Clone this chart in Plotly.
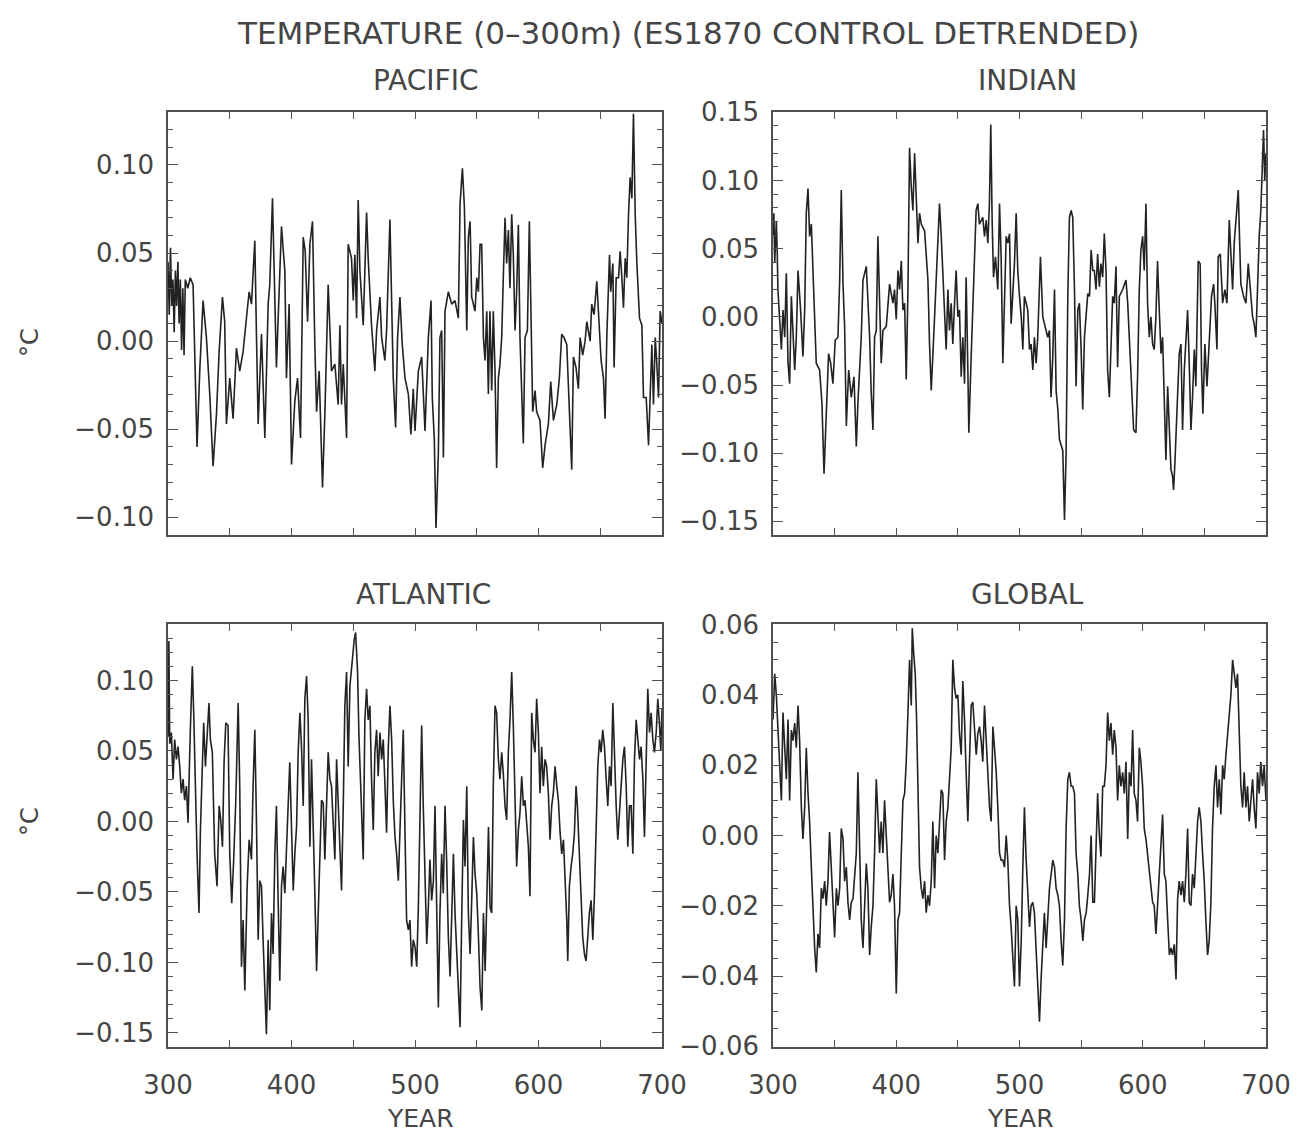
import plotly.graph_objects as go

# ---------------- data ----------------
PACIFIC = [
    (300, 0.045), (301, 0.015), (302, 0.053), (303, 0.020), (304, 0.035), (305, 0.005),
    (306, 0.040), (307, 0.020), (308, 0.045), (309, 0.010), (310, 0.035), (311, -0.005),
    (312, 0.030), (313, -0.008), (314, 0.035), (316, 0.030), (318, 0.036), (320.3, 0.032),
    (323.5, -0.060), (325.7, -0.017), (328.4, 0.023), (331.1, 0.002), (333.8, -0.030),
    (336.5, -0.071), (339.2, -0.042), (341.4, -0.006), (344.1, 0.025), (345.9, 0.011),
    (347.3, -0.047), (350, -0.021), (352.7, -0.044), (355.4, -0.004), (358.1, -0.017),
    (360.8, -0.006), (363.5, 0.013), (365.7, 0.028), (367.6, 0.021), (370.3, 0.057),
    (371.6, 0.004), (373, -0.047), (375.7, 0.004), (378.4, -0.055), (381.1, 0.021),
    (382.4, 0.032), (384.6, 0.081), (386.5, 0.032), (387.8, -0.015), (389.2, 0.013),
    (391.9, 0.065), (394.6, 0.040), (395.9, -0.021), (398.1, 0.021), (400, -0.070),
    (402.7, -0.034), (404.9, -0.021), (407.3, -0.055), (409.5, 0.059), (411.1, 0.051),
    (413, 0.011), (414.9, 0.055), (417, 0.068), (418.9, -0.002), (420.3, -0.040),
    (422.4, -0.017), (425.1, -0.083), (427, -0.042), (429.7, 0.032), (432.4, -0.017),
    (435.1, -0.013), (437.8, -0.036), (439.2, 0.009), (440.5, -0.036), (441.9, -0.013),
    (444.6, -0.055), (445.9, 0.055), (448.6, 0.047), (450, 0.023), (451.3, 0.049),
    (452.7, 0.013), (454, 0.080), (455.4, 0.040), (456.7, 0.025), (458.1, 0.009),
    (459.4, 0.040), (460.8, 0.073), (462.1, 0.047), (464.8, 0.009), (467.5, -0.017),
    (468.9, 0.006), (471.6, 0.025), (473, 0.002), (475.6, -0.011), (477, 0.006),
    (479.7, 0.069), (481.1, 0.017), (482.4, -0.021), (484.3, -0.049), (485.9, 0.002),
    (487.8, 0.025), (489.7, -0.002), (491.9, -0.021), (494.6, -0.030), (496.7, -0.053),
    (498.6, -0.027), (500, -0.051), (502.7, -0.017), (505.4, -0.009), (508.1, -0.051),
    (510.8, 0.002), (513, 0.023), (514, -0.032), (515.6, -0.055), (517, -0.106),
    (518.9, -0.064), (520.2, 0.002), (521.6, 0.006), (523, -0.066), (524.3, 0.017),
    (527, 0.028), (529.7, 0.021), (532.4, 0.023), (535.1, 0.013), (536.5, 0.078),
    (538.4, 0.098), (540, 0.076), (541.9, 0.006), (543.2, 0.059), (544.6, 0.068),
    (545.9, 0.025), (548.6, 0.017), (550, 0.036), (551.3, 0.028), (552.7, 0.055),
    (554, 0.055), (555.4, 0.002), (556.7, -0.011), (558.1, 0.017), (559.4, -0.030),
    (560.7, 0.017), (562.1, -0.028), (563.4, 0.017), (564.8, -0.017), (566.1, -0.072),
    (567.5, -0.021), (568.8, -0.013), (570.2, 0.002), (571.5, 0.036), (572.9, 0.070),
    (574.2, 0.044), (575.6, 0.063), (576.9, 0.030), (578.3, 0.072), (579.6, 0.049),
    (581, 0.006), (582.3, 0.028), (583.7, 0.066), (585, 0.002), (586.4, -0.032),
    (587.7, -0.058), (589.1, 0.002), (591, 0.006), (592.6, 0.068), (593.7, 0.013),
    (595.3, -0.040), (597.2, -0.028), (598.5, -0.040), (601.2, -0.045), (603.4, -0.072),
    (605.3, -0.059), (608, -0.047), (609.9, -0.023), (612.1, -0.045), (614.8, -0.036),
    (616.9, -0.021), (618.8, 0.004), (620.7, 0.002), (622.9, -0.002), (625, -0.036),
    (626.9, -0.073), (628.3, -0.009), (630.4, -0.015), (632.3, -0.027), (633.7, 0.002),
    (635.8, -0.008), (637.7, 0.000), (639.1, 0.011), (641.8, 0.000), (643.1, 0.021),
    (645, 0.015), (647.2, 0.034), (648.5, 0.017), (650.7, -0.011), (652.6, -0.021),
    (653.9, -0.044), (655.3, 0.002), (657.5, 0.049), (658.5, 0.028), (660.2, 0.044),
    (661.2, -0.015), (662.9, 0.036), (664.8, 0.036), (666.1, 0.051), (667.5, 0.036),
    (668.8, 0.019), (670.2, 0.047), (671.5, 0.036), (672.9, 0.072), (674.2, 0.093),
    (675.6, 0.081), (676.9, 0.129), (678.3, 0.072), (679.6, 0.045), (681.8, 0.013),
    (683.7, 0.009), (685, -0.032), (687.2, -0.032), (689.1, -0.059), (690.4, -0.028),
    (691.8, -0.002), (693.1, -0.036), (694.5, 0.002), (695.8, -0.013), (697.2, -0.032),
    (698.5, 0.017), (700, 0.010),
]

INDIAN = [
    (300, 0.060), (300.7, 0.076), (301.4, 0.040), (302.7, 0.070), (303.5, 0.045),
    (304, 0.020), (306.8, -0.024), (308.1, 0.005), (309.5, -0.015), (310.8, 0.032),
    (312.2, -0.034), (313.5, -0.049), (314.9, 0.015), (316.2, -0.015), (317.6, -0.039),
    (318.9, -0.015), (320.3, 0.034), (322.4, 0.005), (324.3, -0.029), (325.7, 0.005),
    (327, 0.076), (328.4, 0.094), (329.7, 0.059), (331.1, 0.068), (332.4, 0.032),
    (333.8, 0.000), (335.1, -0.034), (337.8, -0.039), (339.7, -0.063), (341.4, -0.115),
    (343.2, -0.076), (345.1, -0.027), (346.8, -0.034), (348.6, -0.049), (350.5, -0.017),
    (352.7, -0.015), (354.1, 0.027), (355.4, 0.093), (356.8, 0.024), (358.1, -0.007),
    (359.5, -0.080), (361.4, -0.039), (363.5, -0.059), (365.7, -0.044), (367.6, -0.095),
    (368.9, -0.063), (371.6, -0.015), (373, 0.027), (375.7, 0.037), (377, 0.010),
    (378.4, -0.015), (379.7, -0.056), (381.1, -0.083), (382.4, -0.015), (383.8, -0.010),
    (385.1, 0.059), (386.5, 0.010), (387.8, -0.034), (389.2, -0.010), (391.9, -0.007),
    (394.6, 0.024), (397.3, 0.010), (398.6, 0.020), (400, -0.002), (401.4, 0.034),
    (402.7, 0.020), (404.1, 0.041), (405.4, 0.005), (406.8, 0.010), (408.1, -0.046),
    (409.5, 0.020), (410.8, 0.124), (412.2, 0.095), (413.5, 0.078), (414.9, 0.120),
    (416.2, 0.083), (417.6, 0.054), (418.9, 0.076), (420.3, 0.068), (423, 0.063),
    (425.7, 0.027), (427, -0.020), (428.4, -0.054), (431.1, 0.000), (432.4, 0.024),
    (433.8, 0.059), (435.1, 0.083), (436.5, 0.059), (437.8, 0.029), (439.2, -0.002),
    (440.5, -0.024), (441.9, 0.020), (443.2, -0.010), (444.6, 0.010), (445.9, -0.020),
    (447.3, 0.010), (448.6, 0.034), (450, 0.000), (451.3, 0.005), (452.7, -0.044),
    (454, -0.015), (455.4, -0.049), (456.7, 0.029), (458.1, -0.039), (458.9, -0.085),
    (460.8, -0.029), (462.1, 0.005), (463.5, 0.044), (464.8, 0.078), (466.2, 0.083),
    (467.5, 0.068), (470.2, 0.073), (471.6, 0.059), (473, 0.071), (474.3, 0.054),
    (475.6, 0.083), (476.7, 0.141), (477.8, 0.071), (478.9, 0.029), (480.5, 0.044),
    (482.4, 0.020), (483.8, 0.083), (485.1, 0.044), (486.5, -0.034), (487.8, 0.015),
    (489.2, 0.059), (490.5, 0.054), (491.9, 0.061), (493.2, -0.005), (494.6, 0.020),
    (495.9, 0.039), (497.3, 0.076), (498.6, 0.034), (500, 0.015), (501.4, 0.000),
    (502.7, -0.024), (504, 0.015), (505.4, 0.010), (506.7, 0.005), (508.1, -0.024),
    (509.4, -0.020), (510.8, -0.039), (512.1, -0.015), (513.5, -0.034), (514.8, -0.015),
    (517, 0.044), (518.9, 0.000), (520.2, -0.005), (522.9, -0.015), (524.3, -0.010),
    (525.6, -0.059), (527, -0.029), (528.4, 0.020), (529.7, -0.054), (531.1, -0.068),
    (532.4, -0.090), (533.8, -0.095), (535.1, -0.098), (536.5, -0.149), (537.8, -0.100),
    (539.2, 0.015), (540.5, 0.073), (541.9, 0.078), (543.2, 0.073), (544.6, 0.020),
    (545.9, -0.051), (547.3, 0.005), (548.6, 0.010), (550, -0.024), (551.3, -0.068),
    (552.7, -0.015), (554.1, 0.000), (555.4, 0.017), (556.8, 0.015), (558.1, 0.049),
    (559.5, 0.034), (560.7, 0.034), (562.1, 0.020), (563.4, 0.046), (564.8, 0.022),
    (566.1, 0.039), (567.5, 0.029), (568.8, 0.061), (570.2, 0.034), (571.5, -0.039),
    (572.9, -0.059), (574.2, -0.020), (575.6, 0.015), (576.9, 0.010), (578.3, 0.037),
    (579.6, -0.037), (581, 0.015), (583.7, 0.020), (585, 0.024), (586.4, 0.027),
    (587.8, 0.010), (589.1, -0.015), (590.4, -0.051), (592.6, -0.083), (594.5, -0.085),
    (595.8, -0.044), (597.2, 0.020), (598.5, 0.049), (599.9, 0.059), (601.2, 0.034),
    (602.6, 0.083), (603.9, 0.010), (605.3, -0.015), (606.6, 0.000), (608, -0.020),
    (609.3, -0.024), (610.7, 0.000), (612, 0.041), (613.4, 0.005), (614.8, -0.027),
    (616.1, -0.015), (617.5, -0.068), (618.8, -0.105), (620.2, -0.051), (621.5, -0.088),
    (622.9, -0.112), (624.2, -0.117), (625, -0.127), (626.1, -0.107), (627.7, -0.063),
    (629.6, -0.027), (631, -0.020), (632.3, -0.083), (633.7, -0.039), (635, -0.015),
    (636.4, 0.005), (637.7, -0.034), (639.1, -0.083), (640.4, -0.059), (641.8, -0.024),
    (643.1, -0.051), (645, 0.041), (646.6, 0.039), (647.7, -0.039), (648.8, -0.071),
    (650.4, -0.020), (652.1, -0.051), (654, -0.020), (655.8, 0.015), (657.5, 0.024),
    (658.5, 0.010), (660.2, -0.024), (661.2, 0.044), (662.9, 0.046), (664.8, 0.010),
    (666.6, 0.020), (668.3, 0.010), (670.2, 0.071), (671.5, 0.049), (672.9, 0.020),
    (674.2, 0.054), (675.6, 0.068), (677.5, 0.093), (678.5, 0.059), (679.6, 0.024),
    (681.8, 0.015), (683.7, 0.010), (685.6, 0.039), (687.2, 0.020), (689.1, 0.000),
    (690.4, -0.005), (691.8, -0.015), (693.1, 0.020), (694.5, 0.059), (695.8, 0.078),
    (697.2, 0.122), (698, 0.137), (699, 0.100), (700, 0.120),
]

ATLANTIC = [
    (300, 0.060), (300.7, 0.128), (301.4, 0.055), (302.7, 0.063), (304.1, 0.030),
    (305.4, 0.058), (306.8, 0.044), (308.1, 0.053), (309.5, 0.039), (310.8, 0.020),
    (312.2, 0.030), (313.5, 0.015), (314.9, 0.025), (316.2, -0.001), (318.1, 0.065),
    (319.7, 0.110), (320.8, 0.077), (322.4, 0.011), (323.5, -0.023), (325.1, -0.065),
    (326.2, -0.008), (327.8, 0.039), (328.9, 0.070), (330.3, 0.039), (331.6, 0.058),
    (333.2, 0.084), (334.3, 0.058), (335.9, 0.049), (337.8, -0.023), (339.7, -0.046),
    (341.4, 0.011), (342.7, 0.001), (344.1, -0.018), (345.4, 0.042), (346.8, 0.070),
    (348.6, 0.068), (350, -0.023), (351.6, -0.058), (353.2, -0.027), (354.9, 0.015),
    (356.8, 0.084), (358.1, 0.025), (359.5, -0.103), (360.8, -0.070), (362.2, -0.120),
    (364.1, -0.046), (365.7, -0.013), (367.6, -0.027), (368.9, 0.025), (370.3, 0.065),
    (371.6, 0.001), (373, -0.084), (374.3, -0.042), (375.7, -0.046), (377, -0.084),
    (378.4, -0.113), (379.7, -0.151), (381.1, -0.084), (382.4, -0.134), (383.8, -0.065),
    (385.1, -0.094), (386.5, -0.023), (387.8, 0.011), (389.2, -0.056), (390.5, -0.113),
    (391.9, -0.046), (393.2, -0.032), (394.6, -0.051), (395.9, -0.023), (397.3, 0.006),
    (398.6, 0.042), (400, -0.004), (401.4, -0.049), (402.7, -0.023), (404.1, -0.004),
    (405.4, 0.049), (406.8, 0.077), (408.1, 0.053), (409.5, 0.011), (410.8, 0.087),
    (412.2, 0.103), (413.5, 0.072), (414.9, -0.018), (416.2, 0.044), (417.6, 0.001),
    (418.9, -0.051), (420.3, -0.106), (421.6, -0.061), (423, -0.023), (424.3, 0.015),
    (425.7, 0.013), (427, -0.027), (429.7, 0.049), (431.1, 0.030), (432.4, 0.025),
    (433.8, 0.001), (435.1, -0.027), (436.5, 0.044), (437.8, 0.011), (439.2, -0.027),
    (440.5, -0.049), (441.9, 0.011), (443.2, 0.082), (444.6, 0.106), (445.9, 0.039),
    (447.3, 0.096), (448.6, 0.110), (450.8, 0.129), (451.9, 0.134), (453.5, 0.106),
    (454.6, 0.061), (456.2, 0.025), (458.1, -0.027), (459.4, 0.072), (460.8, 0.094),
    (462.1, 0.072), (463.5, 0.082), (464.8, 0.030), (466.2, -0.006), (467.5, 0.049),
    (468.9, 0.065), (470.2, 0.032), (471.6, 0.063), (473, 0.044), (474.3, 0.058),
    (475.7, 0.025), (477, -0.008), (478.4, 0.053), (479.7, 0.082), (481.1, 0.058),
    (482.4, 0.015), (483.8, -0.011), (485.1, -0.023), (486.5, -0.042), (487.8, -0.004),
    (489.2, 0.039), (490.5, 0.065), (491.9, -0.008), (493.2, -0.070), (494.6, -0.077),
    (495.9, -0.070), (497.3, -0.103), (498.6, -0.084), (500, -0.089), (501.4, -0.103),
    (502.7, -0.061), (504, -0.008), (505.4, 0.068), (506.7, 0.011), (508.1, -0.037),
    (509.5, -0.087), (510.8, -0.061), (512.1, -0.027), (513.5, -0.056), (514.9, -0.042),
    (516.2, 0.011), (517.5, -0.065), (518.9, -0.132), (520.2, -0.065), (521.6, -0.023),
    (522.9, -0.051), (524.3, 0.011), (525.6, -0.027), (527, -0.082), (528.4, -0.110),
    (529.7, -0.061), (531.1, -0.023), (532.4, -0.065), (533.8, -0.094), (535.1, -0.127),
    (536.5, -0.146), (537.8, -0.070), (539.2, 0.001), (540.5, -0.032), (541.9, 0.025),
    (543.2, -0.065), (544.6, -0.094), (545.9, -0.056), (547.3, -0.011), (548.6, -0.037),
    (550, -0.051), (551.3, -0.080), (552.7, -0.118), (554.1, -0.134), (555.4, -0.065),
    (556.8, -0.106), (558.1, -0.046), (559.5, -0.004), (560.8, -0.061), (562.1, -0.065),
    (563.4, 0.025), (564.8, 0.082), (566.1, 0.077), (567.5, 0.044), (568.8, 0.030),
    (570.2, 0.049), (571.5, 0.034), (572.9, 0.011), (574.2, 0.001), (575.6, 0.049),
    (576.9, 0.072), (578.3, 0.106), (579.6, 0.068), (581, 0.011), (582.3, -0.032),
    (583.7, -0.006), (585, 0.006), (586.4, 0.032), (587.8, 0.011), (589.1, 0.015),
    (590.4, -0.004), (591.8, -0.018), (593.1, -0.053), (594.5, 0.077), (595.8, 0.058),
    (597.2, 0.049), (598.5, 0.087), (599.9, 0.063), (601.2, 0.020), (602.6, 0.053),
    (603.9, 0.025), (605.3, 0.044), (606.6, 0.039), (608, 0.020), (609.3, -0.013),
    (610.7, 0.011), (612, 0.020), (613.4, 0.039), (614.8, 0.025), (616.1, 0.015),
    (617.5, -0.008), (618.8, -0.023), (620.2, -0.013), (621.5, -0.037), (622.9, -0.070),
    (623.7, -0.099), (625, -0.046), (626.4, -0.032), (627.7, -0.023), (629.1, -0.008),
    (630.4, 0.025), (631.5, 0.011), (633.1, -0.023), (634.5, -0.042), (635.8, -0.082),
    (637.2, -0.094), (638.5, -0.099), (639.9, -0.082), (641.2, -0.065), (642.6, -0.056),
    (644, -0.084), (645.3, -0.051), (646.6, 0.001), (648, 0.039), (649.4, 0.058),
    (650.7, 0.049), (652, 0.065), (653.4, 0.053), (654.8, 0.030), (656.1, 0.011),
    (657.5, 0.039), (658.8, 0.025), (660.2, 0.084), (661.5, 0.044), (662.9, 0.011),
    (664.2, -0.013), (665.6, 0.011), (666.9, 0.025), (668.3, 0.044), (669.6, 0.053),
    (671, 0.025), (672.3, -0.018), (673.7, 0.011), (675, 0.011), (676.4, -0.023),
    (677.7, 0.044), (679.1, 0.072), (680.4, 0.058), (681.8, 0.044), (683.1, 0.053),
    (684.5, 0.030), (685.8, -0.011), (687.2, 0.044), (688.5, 0.094), (689.9, 0.063),
    (691.2, 0.077), (692.6, 0.058), (693.9, 0.049), (695.3, 0.063), (696.6, 0.087),
    (698, 0.068), (699, 0.050), (700, 0.080),
]

GLOBAL = [
    (300, 0.033), (301.4, 0.046), (302.7, 0.040), (304.1, 0.030), (305.4, 0.023),
    (306.8, 0.010), (308.1, 0.035), (309.5, 0.023), (310.8, 0.016), (312.2, 0.033),
    (313.5, 0.010), (314.9, 0.030), (316.2, 0.027), (317.6, 0.032), (318.9, 0.025),
    (320.3, 0.037), (321.6, 0.027), (323, 0.008), (324.3, -0.001), (325.7, 0.008),
    (327, 0.025), (328.4, 0.012), (329.7, 0.004), (331.1, -0.009), (332.4, -0.022),
    (333.8, -0.032), (335.1, -0.039), (336.5, -0.028), (337.8, -0.032), (339.2, -0.015),
    (340.5, -0.018), (341.9, -0.013), (343.2, -0.020), (344.6, -0.013), (345.9, 0.001),
    (347.3, -0.011), (348.6, -0.022), (350, -0.029), (351.4, -0.015), (352.7, -0.020),
    (354.1, -0.015), (355.4, 0.002), (356.8, -0.001), (358.1, -0.013), (359.5, -0.009),
    (360.8, -0.019), (362.2, -0.024), (363.5, -0.019), (364.9, -0.018), (366.2, -0.012),
    (367.6, -0.005), (368.9, 0.018), (370.3, -0.005), (371.6, -0.024), (373, -0.032),
    (374.3, -0.020), (375.7, -0.008), (377, -0.015), (378.4, -0.034), (379.7, -0.026),
    (381.1, -0.020), (382.4, -0.005), (383.8, 0.016), (385.1, 0.006), (386.5, -0.005),
    (387.8, 0.004), (389.2, -0.005), (390.5, 0.010), (391.9, 0.000), (393.2, -0.011),
    (394.6, -0.019), (395.9, -0.017), (397.3, -0.011), (398.6, -0.020), (400, -0.045),
    (401.4, -0.024), (402.7, -0.022), (404.1, -0.005), (405.4, 0.010), (406.8, 0.012),
    (408.1, 0.021), (409.5, 0.035), (410.8, 0.050), (412.2, 0.037), (413, 0.059),
    (414.1, 0.052), (415.4, 0.046), (416.5, 0.033), (417.6, 0.008), (418.9, -0.009),
    (420.3, -0.015), (421.6, -0.018), (423, -0.013), (424.3, -0.022), (425.7, -0.017),
    (427, -0.020), (428.4, -0.013), (429.7, 0.004), (431.1, -0.015), (432.4, 0.000),
    (433.8, -0.005), (435.1, 0.006), (436.5, 0.013), (437.8, 0.012), (439.2, -0.007),
    (440.5, 0.004), (441.9, 0.008), (443.2, 0.016), (444.6, 0.025), (445.9, 0.050),
    (447.3, 0.042), (448.6, 0.039), (450, 0.040), (451.3, 0.029), (452.7, 0.023),
    (454, 0.044), (455.4, 0.033), (456.7, 0.018), (458.1, 0.004), (459.4, 0.021),
    (460.8, 0.037), (462.1, 0.038), (463.5, 0.031), (464.9, 0.023), (466.2, 0.029),
    (467.6, 0.031), (468.9, 0.027), (470.2, 0.021), (471.6, 0.037), (473, 0.027),
    (474.3, 0.016), (475.7, 0.008), (477, 0.004), (478.4, 0.031), (479.7, 0.025),
    (481.1, 0.018), (482.4, 0.008), (483.8, -0.005), (485.1, -0.007), (486.5, -0.007),
    (487.8, -0.009), (489.2, 0.000), (490.5, -0.007), (491.9, -0.020), (493.2, -0.026),
    (494.6, -0.034), (495.9, -0.043), (497.3, -0.020), (498.6, -0.024), (500, -0.043),
    (501.4, -0.030), (502.7, -0.009), (504, 0.008), (505.4, -0.007), (506.8, -0.017),
    (508.1, -0.026), (509.4, -0.020), (510.8, -0.019), (512.1, -0.022), (513.5, -0.034),
    (514.8, -0.045), (516.2, -0.053), (517.5, -0.041), (518.9, -0.029), (520.2, -0.022),
    (521.6, -0.032), (523, -0.022), (524.3, -0.015), (525.7, -0.011), (527, -0.007),
    (528.4, -0.009), (529.7, -0.015), (531.1, -0.017), (532.4, -0.020), (533.8, -0.030),
    (535.1, -0.037), (536.5, -0.024), (537.8, 0.002), (539.2, 0.016), (540.5, 0.018),
    (541.9, 0.014), (543.2, 0.014), (544.6, 0.012), (545.9, -0.005), (547.3, -0.011),
    (548.6, -0.020), (550, -0.024), (551.4, -0.030), (552.7, -0.024), (554.1, -0.022),
    (555.4, -0.017), (556.8, -0.011), (558.1, 0.000), (559.5, -0.019), (560.8, -0.019),
    (562.1, 0.000), (563.4, 0.012), (564.8, 0.000), (566.1, -0.006), (567.5, 0.014),
    (568.8, 0.014), (570.2, 0.020), (571.5, 0.035), (572.9, 0.027), (574.2, 0.032),
    (575.6, 0.023), (576.9, 0.030), (578.3, 0.025), (579.6, 0.010), (581, 0.020),
    (582.3, 0.014), (583.7, 0.018), (585, 0.012), (586.4, 0.021), (587.8, -0.001),
    (589.1, 0.018), (590.5, 0.014), (591.8, 0.030), (593.1, 0.012), (594.5, 0.010),
    (595.8, 0.004), (597.2, 0.025), (598.5, 0.021), (599.9, 0.014), (601.2, 0.002),
    (602.6, -0.001), (603.9, -0.005), (605.3, -0.011), (606.6, -0.015), (608, -0.019),
    (609.3, -0.020), (610.7, -0.028), (612, -0.020), (613.4, -0.011), (614.8, -0.001),
    (616.1, 0.006), (617.5, -0.011), (618.8, -0.013), (620.2, -0.024), (621.6, -0.034),
    (622.9, -0.032), (624.2, -0.034), (625.6, -0.031), (627, -0.041), (628.3, -0.018),
    (629.6, -0.013), (631, -0.017), (632.3, -0.013), (633.7, -0.019), (635, -0.011),
    (636.4, 0.002), (637.7, -0.019), (639.1, -0.020), (640.4, -0.011), (641.8, -0.015),
    (643.1, -0.005), (644.5, 0.004), (645.8, 0.008), (647.2, 0.004), (648.5, -0.005),
    (649.9, -0.013), (651.2, -0.024), (652.6, -0.034), (653.9, -0.030), (655.3, -0.019),
    (656.6, 0.002), (658, 0.014), (659.4, 0.020), (660.7, 0.008), (662.1, 0.016),
    (663.4, 0.006), (664.8, 0.020), (666.1, 0.016), (667.5, 0.023), (668.8, 0.029),
    (670.2, 0.035), (671.5, 0.040), (672.9, 0.050), (674.2, 0.046), (675.6, 0.042),
    (676.9, 0.046), (678.3, 0.027), (679.6, 0.014), (681, 0.008), (682.3, 0.018),
    (683.7, 0.008), (685, 0.014), (686.4, 0.004), (687.7, 0.010), (689.1, 0.016),
    (690.4, 0.008), (691.8, 0.002), (693.1, 0.018), (694.5, 0.012), (695.8, 0.021),
    (697.2, 0.014), (698.5, 0.020), (700, 0.010),
]

PAC_YEARS, PAC_VALUES = [p[0] for p in PACIFIC], [p[1] for p in PACIFIC]
IND_YEARS, IND_VALUES = [p[0] for p in INDIAN], [p[1] for p in INDIAN]
ATL_YEARS, ATL_VALUES = [p[0] for p in ATLANTIC], [p[1] for p in ATLANTIC]
GLO_YEARS, GLO_VALUES = [p[0] for p in GLOBAL], [p[1] for p in GLOBAL]

PANEL_TITLES = ["PACIFIC", "INDIAN", "ATLANTIC", "GLOBAL"]
X_TICKS = [300, 350, 400, 450, 500, 550, 600, 650, 700]
X_TICK_TEXT = ["300", "", "400", "", "500", "", "600", "", "700"]

# ---------------- figure ----------------
W, H = 1302, 1134
ML, MR, MT, MB = 168, 36, 112, 87
PW, PH = W - ML - MR, H - MT - MB


def px_x(p):
    return (p - ML) / PW


def px_y(p):
    return (H - MB - p) / PH


TXT = "#454545"
AX = "#505050"
FONT = "DejaVu Sans"

fig = go.Figure()
series = [
    (PAC_YEARS, PAC_VALUES, "x", "y"),
    (IND_YEARS, IND_VALUES, "x2", "y2"),
    (ATL_YEARS, ATL_VALUES, "x3", "y3"),
    (GLO_YEARS, GLO_VALUES, "x4", "y4"),
]
for xs, ys, xa, ya in series:
    fig.add_trace(go.Scatter(x=xs, y=ys, xaxis=xa, yaxis=ya, mode="lines",
                             line=dict(color="#222222", width=1.6),
                             showlegend=False, hoverinfo="skip"))

xl = px_x(662)
xr = px_x(773)
yb_top = px_y(535)
yt_bot = px_y(624)


def xaxis(domain, anchor, labels):
    return dict(domain=domain, anchor=anchor, range=[300, 700],
                tickvals=X_TICKS, ticktext=X_TICK_TEXT, showticklabels=labels,
                ticks="inside", ticklen=7, tickwidth=1.2, tickcolor=AX,
                showline=True, linecolor=AX, linewidth=1.6, mirror="allticks",
                showgrid=False, zeroline=False, ticklabelstandoff=14,
                tickfont=dict(family=FONT, size=26, color=TXT))


def yaxis(domain, anchor, rng, minor_dtick, tickvals):
    return dict(domain=domain, anchor=anchor, range=rng,
                tickvals=tickvals, tickformat=".2f",
                ticks="inside", ticklen=10, tickwidth=1.2, tickcolor=AX,
                minor=dict(dtick=minor_dtick, tick0=0, ticks="inside", ticklen=5,
                           tickwidth=1, tickcolor=AX),
                showline=True, linecolor=AX, linewidth=1.6, mirror="allticks",
                showgrid=False, zeroline=False, ticklabelstandoff=7,
                tickfont=dict(family=FONT, size=26, color=TXT))


fig.update_layout(
    width=W, height=H, autosize=False,
    margin=dict(l=ML, r=MR, t=MT, b=MB, pad=0),
    paper_bgcolor="white", plot_bgcolor="white",
    xaxis=xaxis([0, xl], "y", False),
    yaxis=yaxis([yb_top, 1], "x", [-0.11, 0.13], 0.01,
                [-0.10, -0.05, 0.0, 0.05, 0.10]),
    xaxis2=xaxis([xr, 1], "y2", False),
    yaxis2=yaxis([yb_top, 1], "x2", [-0.16, 0.1502], 0.01,
                 [-0.15, -0.10, -0.05, 0.0, 0.05, 0.10, 0.15]),
    xaxis3=xaxis([0, xl], "y3", True),
    yaxis3=yaxis([0, yt_bot], "x3", [-0.16, 0.14], 0.01,
                 [-0.15, -0.10, -0.05, 0.0, 0.05, 0.10]),
    xaxis4=xaxis([xr, 1], "y4", True),
    yaxis4=yaxis([0, yt_bot], "x4", [-0.0602, 0.0602], 0.005,
                 [-0.06, -0.04, -0.02, 0.0, 0.02, 0.04, 0.06]),
)

annots = [
    ("TEMPERATURE (0\u2013300m) (ES1870 CONTROL DETRENDED)", 688, 33, 31, 0),
    (PANEL_TITLES[0], 425, 80, 28, 0),
    (PANEL_TITLES[1], 1027, 80, 28, 0),
    (PANEL_TITLES[2], 423, 594, 28, 0),
    (PANEL_TITLES[3], 1027, 594, 28, 0),
    ("\u00b0C", 30, 343, 24, -90),
    ("\u00b0C", 30, 822, 24, -90),
    ("YEAR", 420, 1118, 25, 0),
    ("YEAR", 1020, 1118, 25, 0),
]
for text, px, py, size, ang in annots:
    fig.add_annotation(text=text, x=px_x(px), y=px_y(py), xref="paper", yref="paper",
                       showarrow=False, xanchor="center", yanchor="middle",
                       textangle=ang, font=dict(family=FONT, size=size, color=TXT))

fig.write_html("out.html")
